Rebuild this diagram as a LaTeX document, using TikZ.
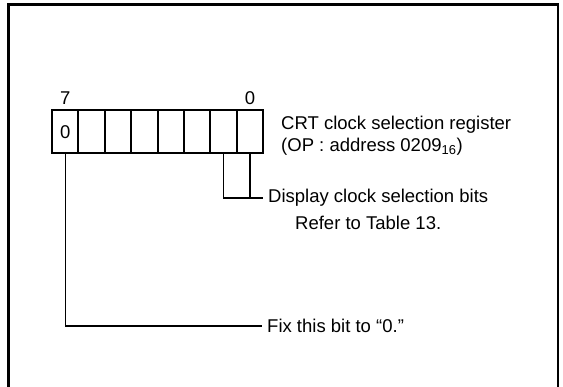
\documentclass[tikz,border=0pt]{standalone}
\usepackage{fontspec}
\setmainfont{Liberation Sans}
\usetikzlibrary{positioning}
\tikzset{
  % Register cells
  bitcell/.style   = {draw, line width=2pt, minimum width=26.4pt, minimum height=43pt, inner sep=0pt},
  bitnum/.style    = {inner sep=0pt},
  % Leader lines
  leader/.style    = {line width=1.3pt},
  % Labels
  lab/.style       = {anchor=west, inner ysep=0pt, inner xsep=5pt, align=left},
  frameline/.style = {line width=2.6pt},
}
\begin{document}
\begin{tikzpicture}[x=1pt,y=-1pt,font=\fontsize{18.5}{22}\selectfont]
  \useasboundingbox (0,0) rectangle (563,387);
  % Frame
  \draw[frameline] (8.5,390) -- (8.5,4.5) -- (558,4.5) -- (558,390);
  % Register
  \foreach \b in {0,...,7} \node[bitcell] (c\b) at ({65.2+26.4*(7-\b)},132) {};
  \node[bitnum] (v7) at (c7) {0};
  \node[bitnum, above=5pt of c7.north] (n7) {7};
  \node[bitnum, above=5pt of c0.north] (n0) {0};
  % Labels
  \node[lab] (reglbl) at (276,136) {CRT clock selection register\\(OP : address 0209\textsubscript{16})};
  \node[lab] (displbl) at (263,198) {Display clock selection bits};
  \node[lab] (reflbl) at (290,223) {Refer to Table 13.};
  \node[lab] (fixlbl) at (262,326) {Fix this bit to “0.”};
  % Leaders
  \draw[leader] (c1.south) |- (displbl.west);
  \draw[leader] (c0.south) -- (c0.south |- displbl.west);
  \draw[leader] (c7.south) |- (fixlbl.west);
\end{tikzpicture}
\end{document}
